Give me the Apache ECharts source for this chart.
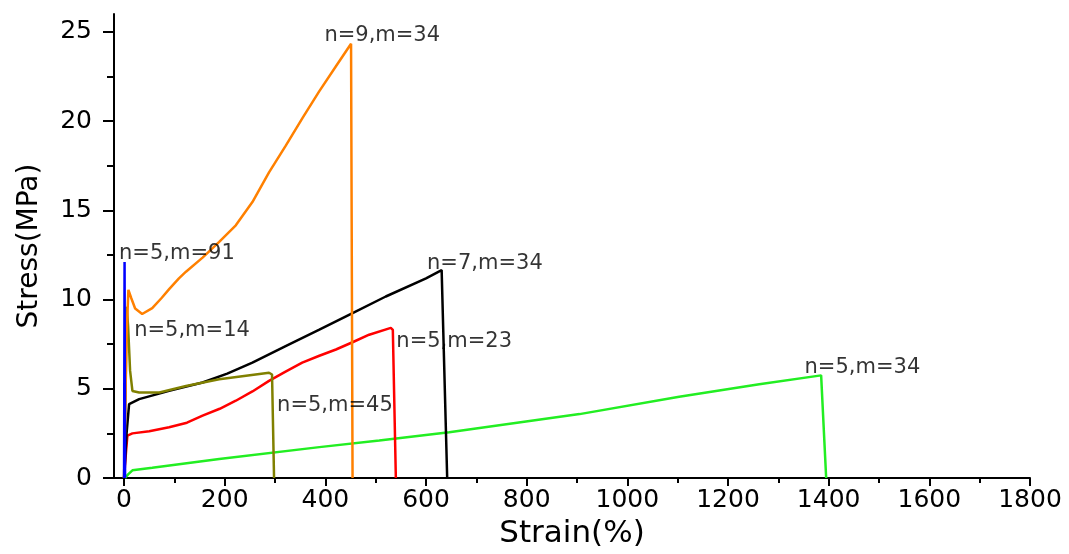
<!DOCTYPE html>
<html>
<head>
<meta charset="utf-8">
<script src="https://cdn.jsdelivr.net/npm/echarts@6/dist/echarts.min.js"></script>
<style>
html,body{margin:0;padding:0;background:#fff;}
#chart{width:1069px;height:554px;}
</style>
</head>
<body>
<div id="chart"></div>
<script>
// ---- data (strain %, stress MPa) ----
const n5m91 = [[0,0],[1,12.1],[2,0]];
const n9m34 = [[0,0],[5,8],[8.6,10.54],[14,10.1],[22,9.5],[36,9.19],[56,9.52],[75,10.1],[90,10.6],[109,11.19],[123,11.56],[156,12.35],[189,13.23],[222,14.16],[255,15.46],[288,17.13],[321,18.61],[355,20.19],[388,21.68],[421,23.07],[451,24.33],[453,24.4],[454,0]];
const n5m14 = [[0,0],[3,5],[5.3,9.6],[8,8.5],[12,6],[16.6,4.88],[30,4.79],[70,4.79],[123,5.16],[189,5.53],[288,5.9],[294,5.8],[298,0]];
const n7m34 = [[0,0],[5,2.5],[10,4.14],[30,4.42],[89.5,4.88],[156,5.35],[205,5.85],[255,6.46],[321,7.39],[388,8.31],[454,9.24],[520,10.17],[600,11.19],[631,11.65],[642,0]];
const n5m23 = [[0,0],[4,1.5],[6.6,2.38],[16.6,2.5],[50,2.62],[89.5,2.84],[125,3.1],[156,3.49],[190,3.88],[222,4.33],[255,4.85],[288,5.44],[320,5.95],[354,6.46],[388,6.85],[421,7.2],[455,7.62],[487,8.03],[530,8.41],[534,8.3],[540,0]];
const n5m45 = [[2,0],[8,0.2],[16.6,0.43],[56,0.57],[189,1.07],[388,1.73],[507,2.1],[646,2.56],[905,3.58],[1103,4.55],[1262,5.25],[1385,5.75],[1395,0]];

// curve annotations (text, anchor strain, anchor stress)
const labelNames = ['n=5,m=91','n=9,m=34','n=5,m=14','n=7,m=34','n=5,m=23','n=5,m=45','n=5,m=34'];
const labelX = [-10, 398, 20, 602, 541, 304, 1352];
const labelY = [12.58, 24.78, 8.24, 12.03, 7.63, 4.06, 6.18];

// ticks
const xMajorTicks = [0,200,400,600,800,1000,1200,1400,1600,1800];
const xMinorTicks = [100,300,500,700,900,1100,1300,1500,1700];
const yMajorTicks = [0,5,10,15,20,25];
const yMinorTicks = [2.5,7.5,12.5,17.5,22.5];

const FONT = 'DejaVu Sans';
const chart = echarts.init(document.getElementById('chart'), null, {renderer:'canvas'});

function lineSeries(name, data, color){
  return {name, type:'line', data, xAxisIndex:0, yAxisIndex:0, showSymbol:false, symbol:'none',
    lineStyle:{color, width:2.5}, itemStyle:{color}, animation:false, z:3};
}

const labelData = labelNames.map((n,i)=>({name:n, value:[labelX[i], labelY[i]]}));

chart.setOption({
  backgroundColor:'#fff',
  animation:false,
  grid:{left:114, right:39, top:14, bottom:73, containLabel:false},
  xAxis:[{
    type:'value', min:-20, max:1800, position:'bottom',
    name:'Strain(%)', nameLocation:'middle', nameGap:40,
    nameTextStyle:{fontFamily:FONT, fontSize:31, color:'#000'},
    axisLine:{show:true, onZero:false, lineStyle:{color:'#000', width:2}},
    axisTick:{show:true, length:8, inside:false, customValues:xMajorTicks, lineStyle:{color:'#000', width:2}},
    axisLabel:{show:true, margin:10, customValues:xMajorTicks, formatter:v=>String(v), fontFamily:FONT, fontSize:25, color:'#000'},
    splitLine:{show:false}
  },{
    type:'value', min:-20, max:1800, position:'bottom', gridIndex:0,
    axisLine:{show:false, onZero:false},
    axisTick:{show:true, length:5, inside:false, customValues:xMinorTicks, lineStyle:{color:'#000', width:2}},
    axisLabel:{show:false}, splitLine:{show:false}
  }],
  yAxis:[{
    type:'value', min:0, max:26, position:'left',
    name:'Stress(MPa)', nameLocation:'middle', nameGap:70, nameRotate:90,
    nameTextStyle:{fontFamily:FONT, fontSize:28, color:'#000'},
    axisLine:{show:true, onZero:false, lineStyle:{color:'#000', width:2}},
    axisTick:{show:true, length:11, customValues:yMajorTicks, lineStyle:{color:'#000', width:2}},
    axisLabel:{show:true, margin:22, customValues:yMajorTicks, formatter:v=>String(v), fontFamily:FONT, fontSize:25, color:'#000'},
    splitLine:{show:false}
  },{
    type:'value', min:0, max:26, position:'left', gridIndex:0,
    axisLine:{show:false, onZero:false},
    axisTick:{show:true, length:7, inside:false, customValues:yMinorTicks, lineStyle:{color:'#000', width:2}},
    axisLabel:{show:false}, splitLine:{show:false}
  }],
  series:[
    lineSeries('n=5,m=34', n5m45, '#22ee22'),
    lineSeries('n=5,m=23', n5m23, '#ff0000'),
    lineSeries('n=7,m=34', n7m34, '#000000'),
    lineSeries('n=5,m=45', n5m14, '#808000'),
    lineSeries('n=9,m=34', n9m34, '#ff8000'),
    lineSeries('n=5,m=91', n5m91, '#0000ff'),
    {
      type:'scatter', name:'labels', data:labelData, symbolSize:0, silent:true, z:5,
      label:{show:true, position:'right', distance:0, formatter:p=>p.name,
        align:'left', verticalAlign:'middle',
        fontFamily:FONT, fontSize:21, color:'#000'}
    }
  ]
});
</script>
</body>
</html>
